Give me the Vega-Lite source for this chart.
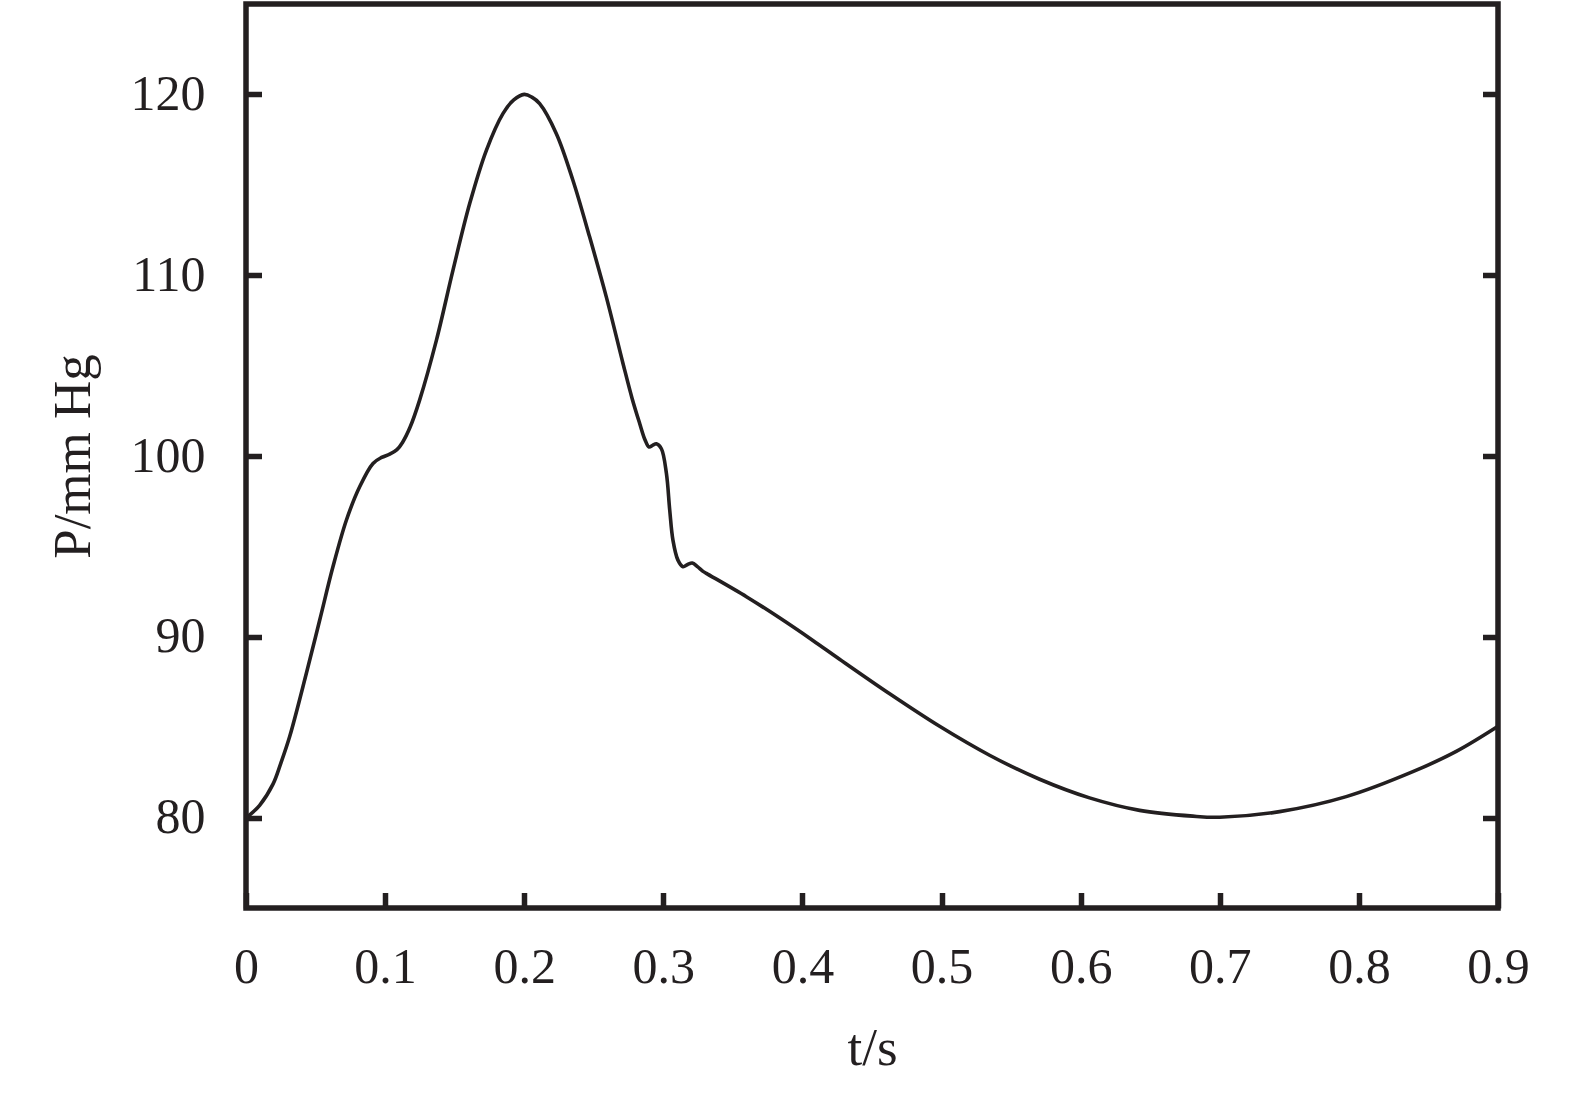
{
  "$schema": "https://vega.github.io/schema/vega-lite/v6.json",
  "width": 1252,
  "height": 904,
  "autosize": "none",
  "padding": {"left": 246, "top": 4, "right": 77, "bottom": 185},
  "background": "white",
  "config": {
    "view": {"stroke": "#231f20", "strokeWidth": 5.5},
    "axis": {
      "grid": false,
      "domain": false,
      "tickColor": "#231f20",
      "tickWidth": 5.5,
      "tickSize": -15.5,
      "labelFont": "Liberation Serif",
      "labelFontSize": 50,
      "labelColor": "#231f20",
      "titleFont": "Liberation Serif",
      "titleFontSize": 53,
      "titleFontWeight": "normal",
      "titleColor": "#231f20"
    }
  },
  "data": {
    "values": [
      {"t": 0, "P": 80.0},
      {"t": 0.0027, "P": 80.15},
      {"t": 0.0098, "P": 80.68},
      {"t": 0.0194, "P": 81.85},
      {"t": 0.025, "P": 83.0},
      {"t": 0.0314, "P": 84.48},
      {"t": 0.0434, "P": 87.98},
      {"t": 0.053, "P": 90.93},
      {"t": 0.0625, "P": 93.87},
      {"t": 0.0722, "P": 96.46},
      {"t": 0.0817, "P": 98.3},
      {"t": 0.0913, "P": 99.59},
      {"t": 0.0975, "P": 99.92},
      {"t": 0.1033, "P": 100.1},
      {"t": 0.1085, "P": 100.35},
      {"t": 0.1125, "P": 100.75},
      {"t": 0.118, "P": 101.6},
      {"t": 0.1248, "P": 103.09},
      {"t": 0.1369, "P": 106.41},
      {"t": 0.1488, "P": 110.28},
      {"t": 0.1608, "P": 113.96},
      {"t": 0.1728, "P": 116.91},
      {"t": 0.1847, "P": 118.94},
      {"t": 0.1925, "P": 119.7},
      {"t": 0.2, "P": 120.0},
      {"t": 0.2055, "P": 119.85},
      {"t": 0.2111, "P": 119.49},
      {"t": 0.2231, "P": 117.83},
      {"t": 0.235, "P": 115.25},
      {"t": 0.247, "P": 112.12},
      {"t": 0.259, "P": 108.8},
      {"t": 0.271, "P": 105.12},
      {"t": 0.2775, "P": 103.2},
      {"t": 0.283, "P": 101.8},
      {"t": 0.2868, "P": 100.9},
      {"t": 0.2897, "P": 100.5},
      {"t": 0.2925, "P": 100.6},
      {"t": 0.295, "P": 100.68},
      {"t": 0.2986, "P": 100.4},
      {"t": 0.3022, "P": 99.04},
      {"t": 0.3046, "P": 97.01},
      {"t": 0.3069, "P": 95.35},
      {"t": 0.3105, "P": 94.24},
      {"t": 0.3141, "P": 93.88},
      {"t": 0.3175, "P": 94.0},
      {"t": 0.3208, "P": 94.08},
      {"t": 0.3245, "P": 93.88},
      {"t": 0.3285, "P": 93.62},
      {"t": 0.3309, "P": 93.51},
      {"t": 0.3597, "P": 92.22},
      {"t": 0.3835, "P": 91.05},
      {"t": 0.4075, "P": 89.8},
      {"t": 0.4267, "P": 88.76},
      {"t": 0.4627, "P": 86.85},
      {"t": 0.4986, "P": 85.05},
      {"t": 0.5345, "P": 83.45},
      {"t": 0.5705, "P": 82.12},
      {"t": 0.6064, "P": 81.09},
      {"t": 0.6424, "P": 80.4},
      {"t": 0.6807, "P": 80.08},
      {"t": 0.7, "P": 80.02},
      {"t": 0.743, "P": 80.33},
      {"t": 0.7909, "P": 81.16},
      {"t": 0.8388, "P": 82.54},
      {"t": 0.87, "P": 83.66},
      {"t": 0.9, "P": 85.05}
    ]
  },
  "layer": [
    {
      "mark": {"type": "line", "interpolate": "catmull-rom", "color": "#231f20", "strokeWidth": 3.6},
      "encoding": {
        "x": {
          "field": "t",
          "type": "quantitative",
          "scale": {"domain": [0, 0.9], "nice": false, "zero": false},
          "axis": {
            "orient": "bottom",
            "title": "t/s",
            "values": [0, 0.1, 0.2, 0.3, 0.4, 0.5, 0.6, 0.7, 0.8, 0.9],
            "format": "~g",
            "labelPadding": 49.5,
            "labelFlush": false,
            "titlePadding": 30
          }
        },
        "y": {
          "field": "P",
          "type": "quantitative",
          "scale": {"domain": [75, 125], "nice": false, "zero": false},
          "axis": {
            "orient": "left",
            "title": "P/mm Hg",
            "values": [80, 90, 100, 110, 120],
            "labelPadding": 56.5,
            "labelFlush": false,
            "titlePadding": 30
          }
        }
      }
    },
    {
      "mark": {"type": "line", "opacity": 0},
      "encoding": {
        "x": {"field": "t", "type": "quantitative"},
        "y": {
          "field": "P",
          "type": "quantitative",
          "axis": {
            "orient": "right",
            "title": null,
            "labels": false,
            "values": [80, 90, 100, 110, 120]
          }
        }
      }
    }
  ],
  "resolve": {"axis": {"y": "independent"}}
}
